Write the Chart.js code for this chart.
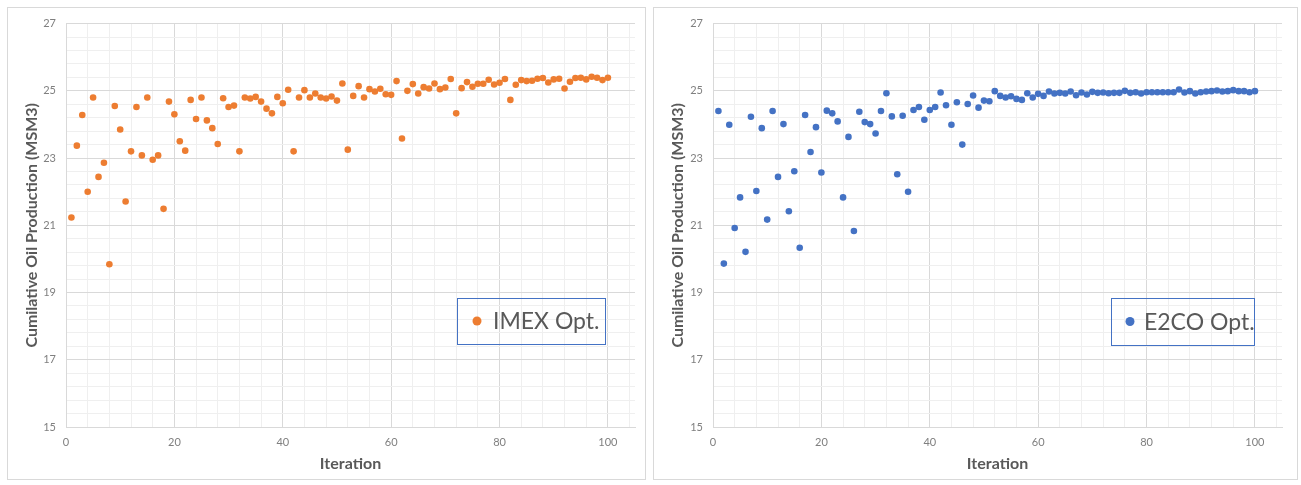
<!DOCTYPE html>
<html>
<head>
<meta charset="utf-8">
<script src="https://cdn.jsdelivr.net/npm/chart.js@4/dist/chart.umd.min.js"></script>
<style>
html,body{margin:0;padding:0;background:#fff;width:1301px;height:485px;overflow:hidden;position:relative;}
.box{position:absolute;top:7px;height:473px;border:1px solid #d9d9d9;box-sizing:border-box;}
#b1{left:7px;width:639px;}
#b2{left:653px;width:645px;}
canvas{position:absolute;top:7px;}
#c1{left:7px;}
#c2{left:653px;}
</style>
</head>
<body>
<div class="box" id="b1"></div>
<div class="box" id="b2"></div>
<canvas id="c1" width="639" height="473"></canvas>
<canvas id="c2" width="645" height="473"></canvas>
<script>
// ---- data ----
const iterations = [1,2,3,4,5,6,7,8,9,10,11,12,13,14,15,16,17,18,19,20,
  21,22,23,24,25,26,27,28,29,30,31,32,33,34,35,36,37,38,39,40,
  41,42,43,44,45,46,47,48,49,50,51,52,53,54,55,56,57,58,59,60,
  61,62,63,64,65,66,67,68,69,70,71,72,73,74,75,76,77,78,79,80,
  81,82,83,84,85,86,87,88,89,90,91,92,93,94,95,96,97,98,99,100];

const imexOpt = [21.23,23.37,24.28,22.00,24.80,22.44,22.86,19.84,24.55,23.85,
  21.71,23.20,24.52,23.08,24.80,22.95,23.08,21.49,24.68,24.30,
  23.50,23.22,24.73,24.16,24.80,24.12,23.89,23.42,24.78,24.52,
  24.56,23.20,24.80,24.77,24.82,24.68,24.47,24.33,24.82,24.63,
  25.03,23.20,24.80,25.02,24.80,24.92,24.80,24.77,24.83,24.71,
  25.22,23.25,24.85,25.14,24.80,25.05,24.98,25.06,24.90,24.88,
  25.29,23.58,25.00,25.20,24.92,25.11,25.07,25.22,25.05,25.10,
  25.35,24.33,25.08,25.26,25.12,25.21,25.21,25.33,25.19,25.24,
  25.35,24.73,25.18,25.32,25.29,25.30,25.36,25.38,25.25,25.34,
  25.36,25.07,25.27,25.38,25.39,25.34,25.42,25.39,25.32,25.39];

const e2coOpt = [24.40,19.86,23.99,20.92,21.83,20.21,24.23,22.02,23.89,21.17,
  24.40,22.44,24.01,21.42,22.61,20.33,24.28,23.18,23.92,22.57,
  24.41,24.33,24.09,21.83,23.63,20.83,24.38,24.07,24.01,23.73,
  24.40,24.93,24.24,22.52,24.26,22.00,24.43,24.52,24.14,24.43,
  24.52,24.95,24.57,23.99,24.66,23.40,24.61,24.86,24.50,24.71,
  24.69,24.99,24.85,24.80,24.84,24.76,24.73,24.93,24.80,24.91,
  24.85,24.98,24.92,24.94,24.92,24.98,24.87,24.95,24.89,24.97,
  24.94,24.95,24.93,24.94,24.94,25.00,24.94,24.96,24.92,24.96,
  24.96,24.96,24.96,24.96,24.96,25.04,24.95,24.99,24.92,24.96,
  24.98,24.99,25.01,24.98,24.99,25.02,24.99,24.99,24.96,24.99];

const xTickLabels = [0,20,40,60,80,100];
const yTickLabels = [15,17,19,21,23,25,27];

// ---- styling ----
Chart.defaults.font.family = 'Lato, "Liberation Sans", sans-serif';
const MAJOR = '#d9d9d9', MINOR = '#efefef';
const near = (a,b)=>Math.abs(a-b)<1e-6;
const isXMajor = v => xTickLabels.some(t=>near(t,v));
const isYMajor = v => yTickLabels.some(t=>near(t,v));

const insideLegend = {
  id:'insideLegend',
  afterDraw(chart, args, o){
    const {ctx, chartArea} = chart;
    const ds = chart.data.datasets[0];
    const x = Math.round(chartArea.left + o.dx), y = Math.round(chartArea.top + o.dy);
    ctx.save();
    ctx.strokeStyle = '#4472c4'; ctx.lineWidth = 1;
    ctx.strokeRect(x+0.5, y+0.5, o.w, o.h);
    ctx.beginPath();
    ctx.arc(x+o.dotX, y+o.h/2, 4.5, 0, Math.PI*2);
    ctx.fillStyle = ds.backgroundColor; ctx.fill();
    ctx.font = '23px Lato, "Liberation Sans", sans-serif';
    ctx.fillStyle = '#595959'; ctx.textBaseline = 'middle'; ctx.textAlign = 'left';
    ctx.fillText(ds.label, x+o.textX, y+o.h/2+1);
    ctx.restore();
  }
};

function makeChart(id, label, values, color, yWidth, padRight, leg){
  return new Chart(document.getElementById(id), {
    type:'scatter',
    data:{datasets:[{
      label, data: iterations.map((x,i)=>({x, y: values[i]})),
      backgroundColor: color, borderColor: color, borderWidth:0,
      pointRadius:3.3, pointHoverRadius:3.3
    }]},
    options:{
      responsive:false, animation:false, devicePixelRatio:1,
      layout:{padding:{top:16, right:padRight, bottom:0, left:0}},
      plugins:{legend:{display:false}, tooltip:{enabled:false}, insideLegend: leg},
      scales:{
        x:{
          type:'linear', min:0, max:105,
          afterFit(s){ s.height = 53; },
          ticks:{stepSize:4, includeBounds:false, autoSkip:false, maxRotation:0, padding:9,
            color:'#7f7f7f', font:{size:11}, maxTicksLimit:100,
            callback:v=> isXMajor(v) ? String(Math.round(v)) : ''},
          grid:{drawTicks:false, color:c=> (c.tick && isXMajor(c.tick.value)) ? MAJOR : MINOR},
          border:{color:MAJOR},
          title:{display:true, text:'Iteration', color:'#595959',
            font:{size:16, weight:'bold'}, padding:{top:0,bottom:7}}
        },
        y:{
          min:15, max:27,
          afterFit(s){ s.width = yWidth; },
          ticks:{stepSize:0.4, autoSkip:false, padding:10, color:'#7f7f7f', font:{size:11}, maxTicksLimit:100,
            callback:v=> isYMajor(v) ? String(Math.round(v)) : ''},
          grid:{drawTicks:false, color:c=> (c.tick && isYMajor(c.tick.value)) ? MAJOR : MINOR},
          border:{color:MAJOR},
          title:{display:true, text:'Cumilative Oil Production (MSM3)', color:'#595959',
            font:{size:16, weight:'bold'}, padding:{top:15,bottom:0}}
        }
      }
    },
    plugins:[insideLegend]
  });
}

makeChart('c1', 'IMEX Opt.', imexOpt, '#ed7d31', 59, 11, {dx:391, dy:274, w:148, h:46, dotX:20, textX:36});
makeChart('c2', 'E2CO Opt.', e2coOpt, '#4472c4', 60, 16, {dx:398, dy:274, w:143, h:47, dotX:19, textX:33});
</script>
</body>
</html>
